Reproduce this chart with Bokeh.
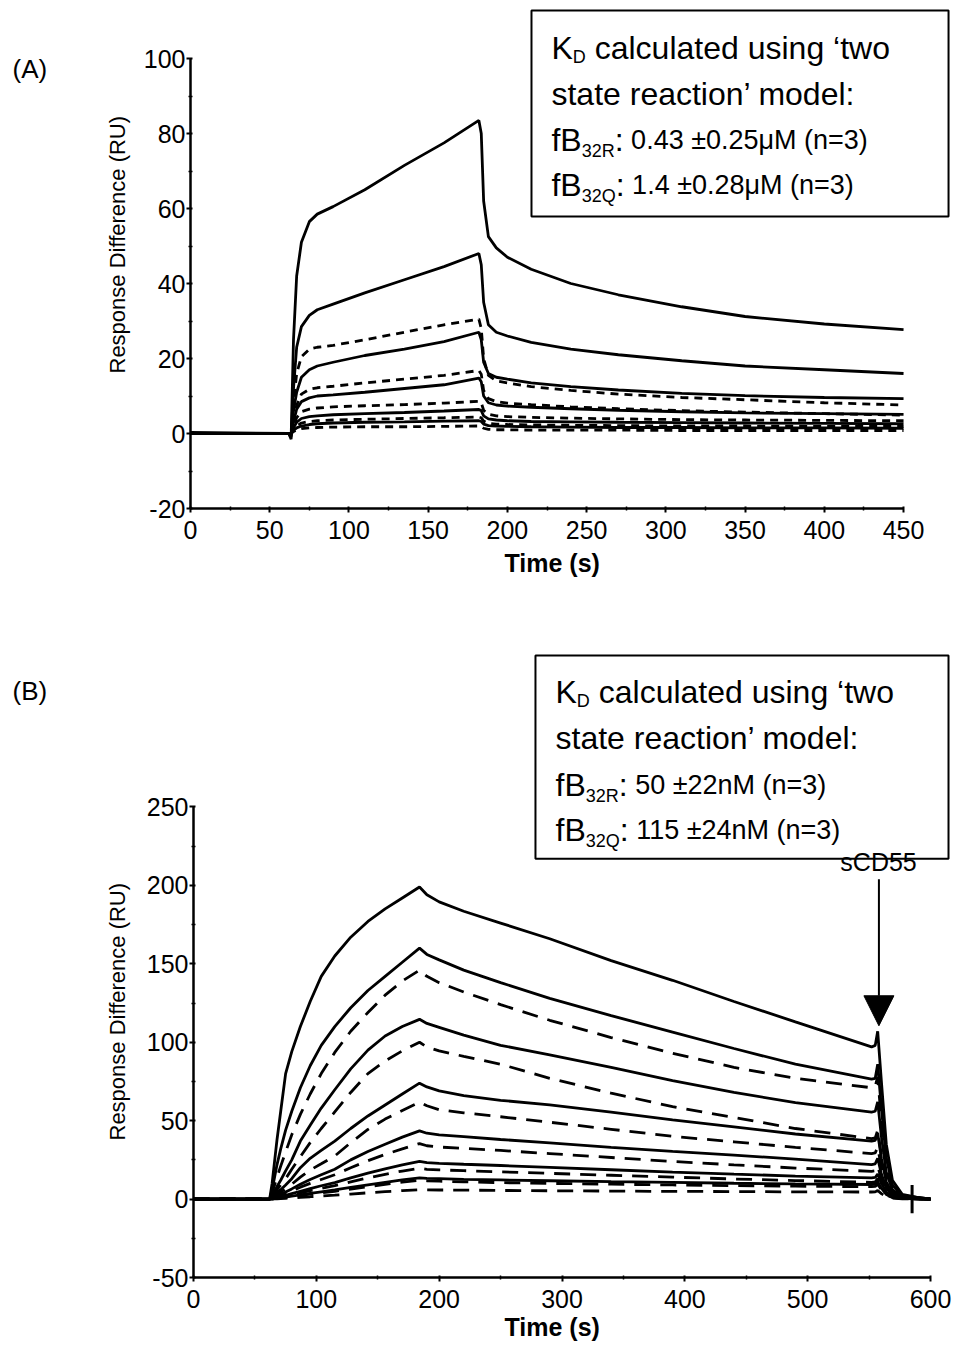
from bokeh.plotting import figure
from bokeh.models import Label, BoxAnnotation, Arrow, NormalHead, Range1d, FixedTicker, Title
from bokeh.layouts import column, row
from bokeh.embed import file_html
from bokeh.resources import INLINE

FONT = "Liberation Sans"

# ---------------- Panel A data ----------------
tA = [0, 62, 63.5, 65, 67, 70, 75, 80, 90, 110, 135, 160, 182, 183.5, 185, 188, 193, 200, 215, 240, 270, 310, 350, 400, 450]
A_S1 = [0.3, 0, -1.5, 25, 42, 51, 56.5, 58.5, 60.5, 65, 71.5, 77.5, 83.5, 80, 62, 52.5, 49.5, 47, 43.8, 40, 37, 33.8, 31.2, 29.2, 27.7]
A_S2 = [0, 0, -1, 12, 23, 28.5, 31.5, 33, 34.5, 37.5, 41, 44.5, 48, 45, 35, 29, 27, 26, 24.3, 22.5, 21, 19.4, 18, 17, 16]
A_S3 = [0, 0, -0.5, 6, 11, 15, 17, 18, 19, 20.8, 22.5, 24.5, 27, 25, 19, 16, 15, 14.5, 13.5, 12.5, 11.6, 10.7, 10.1, 9.6, 9.3]
A_S4 = [0, 0, 0, 3, 6.5, 8.5, 9.5, 10, 10.3, 11, 12, 13, 14.8, 13.8, 10, 8.2, 7.6, 7.3, 7, 6.6, 6.2, 5.8, 5.5, 5.3, 5.1]
A_S5 = [0, 0, 0, 1.5, 3, 4, 4.5, 4.7, 5, 5.3, 5.6, 6, 6.4, 6.1, 4.7, 3.9, 3.6, 3.4, 3.2, 3.1, 3, 2.9, 2.8, 2.7, 2.6]
A_S6 = [0, 0, 0, 0.8, 1.5, 2, 2.4, 2.6, 2.8, 3, 3.1, 3.3, 3.4, 3.2, 2.5, 2.1, 2, 1.9, 1.8, 1.7, 1.6, 1.6, 1.5, 1.5, 1.4]
A_D1 = [0, 0, -0.5, 8, 16, 20.5, 22.5, 23, 23.5, 25, 27, 29, 30.5, 28, 20, 15.5, 14, 13.5, 12.5, 11.5, 10.5, 9.6, 9, 8.2, 7.6]
A_D2 = [0, 0, 0, 3.5, 7.5, 10.5, 11.8, 12.2, 12.6, 13.5, 14.5, 15.5, 16.8, 15.8, 11.5, 9.3, 8.5, 8.1, 7.7, 7.1, 6.6, 6.1, 5.7, 5.3, 4.9]
A_D3 = [0, 0, 0, 2, 4.2, 5.8, 6.5, 6.8, 7.1, 7.4, 7.7, 8.1, 8.6, 8.2, 6.2, 5.1, 4.7, 4.5, 4.3, 4.1, 3.9, 3.7, 3.6, 3.5, 3.4]
A_D4 = [0, 0, 0, 1, 2, 2.8, 3.2, 3.4, 3.6, 3.8, 4, 4.2, 4.4, 4.2, 3.3, 2.7, 2.5, 2.4, 2.3, 2.2, 2.1, 2, 2, 1.9, 1.9]
A_D5 = [0, 0, 0, 0.5, 1, 1.3, 1.5, 1.6, 1.7, 1.8, 1.8, 1.9, 2, 1.9, 1.4, 1.1, 1, 1, 0.9, 0.9, 0.9, 0.8, 0.8, 0.8, 0.8]
A_X_TICKS = [0, 50, 100, 150, 200, 250, 300, 350, 400, 450]
A_Y_TICKS = [-20, 0, 20, 40, 60, 80, 100]

# ---------------- Panel B data ----------------
tB = [0, 62, 64, 66, 68, 71, 75, 80, 87, 95, 104, 115, 128, 142, 156, 170, 184,
      190, 200, 220, 250, 290, 340, 390, 440, 490, 552,
      555, 557, 560, 564, 569, 577, 590, 600]
B_S1 = [0, 0, 10, 24, 38, 56, 80, 94, 110, 126, 142, 155, 167, 177, 185, 192, 199,
        194, 189.5, 183.5, 176, 166, 152, 139.5, 126, 113, 97,
        98, 107, 75, 35, 12, 3, 1, 0]
B_S2 = [0, 0, 6, 14, 22, 32, 44, 56, 71, 85, 98, 110, 122, 133, 142, 151, 160,
        156, 152.5, 146, 138, 128, 117, 106.5, 96, 86, 76.5,
        77, 86, 58, 26, 9, 2.5, 1, 0]
B_S3 = [0, 0, 2, 5, 8, 12, 18, 25, 37, 47, 58, 69.7, 83, 95, 104, 110, 114.6,
        112, 109.5, 104.5, 98, 92, 84, 75.5, 68, 61.5, 55.5,
        56, 62, 40, 17, 6, 1.5, 0.5, 0]
B_S4 = [0, 0, 1, 2.5, 4, 6, 9, 13, 20, 26, 31, 37, 45, 53, 60, 67, 73.9,
        71.5, 69, 66, 63, 60, 55.5, 50.5, 46, 41.5, 37,
        37.5, 42, 26, 11, 4, 1, 0.5, 0]
B_S5 = [0, 0, 0.5, 1.2, 2, 3, 4.5, 6.5, 9.5, 12.5, 15.5, 19, 25, 30.3, 35, 39.5, 43.5,
        42, 41, 39.8, 38, 35.8, 33, 30.4, 28, 25.5, 22,
        22.5, 26, 16, 7, 2.5, 0.8, 0.3, 0]
B_S6 = [0, 0, 0.3, 0.7, 1.1, 1.6, 2.4, 3.5, 5, 6.7, 8.5, 10.5, 13.5, 16.5, 19.3, 21.8, 24,
        23.3, 22.8, 22.2, 21.4, 20.2, 18.7, 17.2, 15.9, 14.7, 13.5,
        13.8, 16, 10, 4.5, 1.6, 0.5, 0.2, 0]
B_S7 = [0, 0, 0.15, 0.35, 0.6, 0.9, 1.3, 1.9, 2.7, 3.6, 4.6, 5.8, 7.4, 9.1, 10.7, 12.2, 13.5,
        13.2, 13, 12.6, 12.2, 11.7, 11.1, 10.6, 10.1, 9.7, 9.3,
        9.5, 11, 7, 3, 1.1, 0.4, 0.1, 0]
B_D1 = [0, 0, 4, 9, 14, 21, 30, 41, 54, 67, 80, 93.5, 107, 119, 130, 139, 146,
        142, 138, 132, 124, 114, 103, 93, 84, 77, 71,
        72, 78, 50, 22, 8, 2, 1, 0]
B_D2 = [0, 0, 1.5, 3.5, 6, 9, 13, 19, 27, 36, 45, 55.6, 68, 80, 88, 94.5, 100,
        97, 94.5, 91, 86, 77, 67.5, 59, 52, 45, 38.5,
        39, 44, 28, 12, 4.5, 1, 0.5, 0]
B_D3 = [0, 0, 0.7, 1.7, 3, 4.5, 6.5, 9.5, 14, 18.5, 22.5, 27.5, 36, 44.4, 51, 56.5, 61.8,
        59.5, 57, 55, 52.5, 49, 44.5, 40, 36.5, 33, 29,
        29.5, 33, 20, 9, 3, 1, 0.3, 0]
B_D4 = [0, 0, 0.4, 1, 1.6, 2.4, 3.6, 5.2, 7.6, 10, 12.5, 15.5, 20, 24.5, 28.5, 32, 35.4,
        34, 33.2, 32.3, 31, 29, 26.5, 24, 21.8, 19.8, 17.7,
        18, 21, 13, 5.5, 2, 0.6, 0.2, 0]
B_D5 = [0, 0, 0.25, 0.55, 0.9, 1.3, 1.9, 2.8, 4, 5.4, 6.9, 8.6, 11, 13.5, 15.8, 17.9, 19.7,
        19, 18.6, 18.1, 17.4, 16.4, 15.2, 14, 12.8, 11.8, 10.7,
        11, 13, 8, 3.5, 1.3, 0.4, 0.1, 0]
B_D6 = [0, 0, 0.1, 0.3, 0.5, 0.8, 1.1, 1.6, 2.3, 3.1, 4, 5, 6.4, 7.9, 9.4, 10.8, 12,
        11.7, 11.4, 11, 10.5, 10, 9.5, 9, 8.6, 8.2, 7.9,
        8.1, 9.5, 6, 2.6, 1, 0.3, 0.1, 0]
B_D7 = [0, 0, 0.05, 0.12, 0.2, 0.35, 0.5, 0.75, 1.1, 1.5, 2, 2.5, 3.2, 4, 4.7, 5.4, 6,
        5.9, 5.8, 5.7, 5.5, 5.3, 5.1, 4.9, 4.8, 4.6, 4.5,
        4.6, 5.5, 3.5, 1.5, 0.6, 0.2, 0.1, 0]
B_MARK_T = [585]
B_MARK_LO = [-9]
B_MARK_HI = [9]
B_X_TICKS = [0, 100, 200, 300, 400, 500, 600]
B_Y_TICKS = [-50, 0, 50, 100, 150, 200, 250]

# Arial / Liberation Sans advance widths (per 1000 em)
W = {' ': 278, '(': 333, ')': 333, '.': 278, ':': 278, '=': 584, '±': 584, 'μ': 576,
     '‘': 222, '’': 222, 'A': 667, 'B': 667, 'C': 722, 'D': 722, 'K': 667, 'M': 833,
     'Q': 778, 'R': 722, 'a': 556, 'c': 500, 'd': 556, 'e': 556, 'f': 278, 'g': 556,
     'i': 222, 'l': 222, 'm': 833, 'n': 556, 'o': 556, 'r': 333, 's': 500, 't': 278,
     'u': 556, 'w': 722}

MAIN = 32
SUB = 18
VAL = 27
SIDE_W = 80


def tw(s, size):
    return sum(W.get(c, 556) for c in s) / 1000.0 * size


def rich(p, x, y, pieces):
    off = 0.0
    for text, size, dy in pieces:
        while text.startswith(" "):
            off += tw(" ", size)
            text = text[1:]
        p.add_layout(Label(x=x, y=y, x_offset=off, y_offset=dy, text=text,
                           text_font=FONT, text_font_size=f"{size}px",
                           text_baseline="alphabetic", text_align="left",
                           text_color="black"))
        off += tw(text, size)


def make_title(text, offset, standoff, size, style_):
    t = Title(text=text, align="left", offset=offset, text_font=FONT,
              text_font_size=f"{size}px", text_font_style=style_, text_color="black")
    try:
        t.standoff = standoff
    except Exception:
        pass
    return t


def style(p, xt, xminor, yt, yminor, xb, yb, xt_off, xt_stand, yt_off, yt_stand):
    p.outline_line_color = None
    p.grid.visible = False
    p.xaxis.ticker = FixedTicker(ticks=xt, minor_ticks=xminor)
    p.yaxis.ticker = FixedTicker(ticks=yt, minor_ticks=yminor)
    p.xaxis.bounds = xb
    p.yaxis.bounds = yb
    p.yaxis.major_label_overrides = {v: str(v) for v in yt}
    for ax in (p.xaxis[0], p.yaxis[0]):
        ax.axis_line_width = 2.5
        ax.axis_line_color = "black"
        ax.major_tick_line_width = 2
        ax.major_tick_line_color = "black"
        ax.major_tick_out = 4
        ax.major_tick_in = 2
        ax.minor_tick_line_width = 1.5
        ax.minor_tick_line_color = "black"
        ax.minor_tick_out = 2
        ax.minor_tick_in = 2
        ax.major_label_text_font = FONT
        ax.major_label_text_font_size = "25px"
        ax.major_label_text_color = "black"
    p.add_layout(make_title("Time (s)", xt_off, xt_stand, 25, "bold"), "below")
    p.add_layout(make_title("Response Difference (RU)", yt_off, yt_stand, 22, "normal"), "left")


def side(height, text, baseline):
    s = figure(width=SIDE_W, height=height, x_range=Range1d(0, SIDE_W), y_range=Range1d(height, 0),
               x_axis_type=None, y_axis_type=None, output_backend="svg", toolbar_location=None,
               min_border=0)
    s.outline_line_color = None
    s.grid.visible = False
    s.add_layout(Label(x=12, y=baseline, text=text, text_font=FONT, text_font_size="26px",
                       text_baseline="alphabetic", text_color="black"))
    return s


# ---------------- Panel A ----------------
pa = figure(width=960 - SIDE_W, height=648, x_range=Range1d(0, 480.9), y_range=Range1d(-20, 113.87),
            output_backend="svg", toolbar_location=None,
            min_border_left=190 - SIDE_W, min_border_right=8, min_border_top=6, min_border_bottom=140)
style(pa, A_X_TICKS, [25, 75, 125, 175, 225, 275, 325, 375, 425],
      A_Y_TICKS, [-10, 10, 30, 50, 70, 90], (0, 450), (-20, 100), 314, 10, 135, 22)
pa.xaxis.major_label_standoff = 8
pa.yaxis.major_label_standoff = 1

for ys in (A_S1, A_S2, A_S3, A_S4, A_S5, A_S6):
    pa.line(tA, ys, line_color="black", line_width=2.8)
for ys in (A_D1, A_D2, A_D3, A_D4, A_D5):
    pa.line(tA, ys, line_color="black", line_width=2.8, line_dash="8 6")

pa.add_layout(BoxAnnotation(left=215.2, right=478.4, bottom=57.9, top=112.8,
                            fill_alpha=0, line_alpha=1, line_color="black", line_width=2))
xa = 227.8
rich(pa, xa, 102.9, [("K", MAIN, 0), ("D", SUB, -9), (" calculated using ‘two", MAIN, 0)])
rich(pa, xa, 90.6, [("state reaction’ model:", MAIN, 0)])
rich(pa, xa, 78.4, [("fB", MAIN, 0), ("32R", SUB, -11), (":", MAIN, 0), (" 0.43 ±0.25μM (n=3)", VAL, 0)])
rich(pa, xa, 66.4, [("fB", MAIN, 0), ("32Q", SUB, -11), (":", MAIN, 0), (" 1.4 ±0.28μM (n=3)", VAL, 0)])

# ---------------- Panel B ----------------
pb = figure(width=960 - SIDE_W, height=697, x_range=Range1d(0, 617.9), y_range=Range1d(-50, 348.5),
            output_backend="svg", toolbar_location=None,
            min_border_left=193 - SIDE_W, min_border_right=8, min_border_top=4, min_border_bottom=68)
style(pb, B_X_TICKS, [50, 150, 250, 350, 450, 550],
      B_Y_TICKS, [-25, 25, 75, 125, 175, 225], (0, 600), (-50, 250), 311, 0, 137, 28)
pb.xaxis.major_label_standoff = 8
pb.yaxis.major_label_standoff = 1

for ys in (B_S1, B_S2, B_S3, B_S4, B_S5, B_S6, B_S7):
    pb.line(tB, ys, line_color="black", line_width=2.8)
for ys in (B_D1, B_D2, B_D3, B_D4, B_D5, B_D6, B_D7):
    pb.line(tB, ys, line_color="black", line_width=2.8, line_dash="16 10")
pb.segment(x0=B_MARK_T, y0=B_MARK_LO, x1=B_MARK_T, y1=B_MARK_HI, line_color="black", line_width=3)

pb.add_layout(Arrow(end=NormalHead(size=30, fill_color="black", line_color="black"),
                    x_start=558, y_start=204, x_end=558, y_end=110.5,
                    line_color="black", line_width=2))
pb.add_layout(Label(x=557.7, y=215, text="sCD55", text_font=FONT, text_font_size="25px",
                    text_align="center", text_baseline="alphabetic", text_color="black"))

pb.add_layout(BoxAnnotation(left=278.4, right=614.65, bottom=217.0, top=346.6,
                            fill_alpha=0, line_alpha=1, line_color="black", line_width=2))
xb = 294.7
rich(pb, xb, 323.6, [("K", MAIN, 0), ("D", SUB, -9), (" calculated using ‘two", MAIN, 0)])
rich(pb, xb, 294.2, [("state reaction’ model:", MAIN, 0)])
rich(pb, xb, 264.2, [("fB", MAIN, 0), ("32R", SUB, -11), (":", MAIN, 0), (" 50 ±22nM (n=3)", VAL, 0)])
rich(pb, xb, 235.5, [("fB", MAIN, 0), ("32Q", SUB, -11), (":", MAIN, 0), (" 115 ±24nM (n=3)", VAL, 0)])

la = side(648, "(A)", 81)
lb = side(697, "(B)", 43)

layout = column(row(la, pa, spacing=0), row(lb, pb, spacing=0), spacing=0)
open("out.html", "w").write(file_html(layout, INLINE))
